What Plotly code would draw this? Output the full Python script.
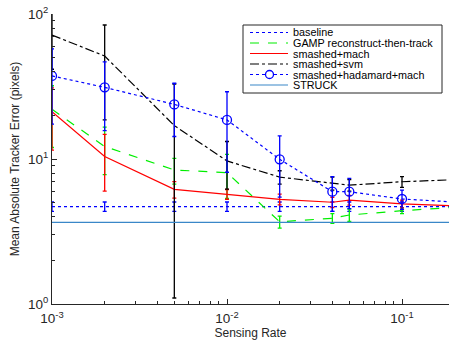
import plotly.graph_objects as go

# ---- data ----
sensing_rate = [0.001, 0.002, 0.005, 0.01, 0.02, 0.04, 0.05, 0.1, 0.2]

baseline = [4.7, 4.7, 4.7, 4.7, 4.7, 4.7, 4.7, 4.7, 4.7]
baseline_err = [0.35, 0.35, 0.35, 0.35, 0.35, 0.35, 0.35, 0.35, 0.35]

gamp = [22.0, 12.2, 8.4, 8.05, 3.69, 3.9, 4.11, 4.4, 4.64]
gamp_err = [10.0, 4.4, 1.7, 2.7, 0.35, 0.3, 0.4, 0.2, 0.2]

smashed_mach = [21.2, 10.4, 6.18, 5.71, 5.27, 5.03, 5.21, 4.9, 4.76]
smashed_mach_err = [9.7, 4.4, 0.8, 0.45, 0.45, 0.4, 0.4, 0.3, 0.3]

smashed_svm = [71.6, 51.3, 17.0, 9.7, 7.5, 6.8, 6.6, 6.97, 7.2]
smashed_svm_err = [30.0, 32.7, 15.9, 3.5, 0.8, 0.7, 0.6, 0.6, 0.6]

smashed_had = [37.4, 31.2, 23.8, 18.6, 9.95, 5.95, 5.95, 5.3, 5.05]
smashed_had_err = [20.0, 15.5, 9.5, 10.5, 4.5, 1.6, 1.4, 0.8, 0.6]

struck = [3.66, 3.66, 3.66, 3.66, 3.66, 3.66, 3.66, 3.66, 3.66]

names = ["baseline", "GAMP reconstruct-then-track", "smashed+mach",
         "smashed+svm", "smashed+hadamard+mach", "STRUCK"]

x_tickvals = [0.001, 0.01, 0.1]
x_ticktext = ["10<sup>-3</sup>", "10<sup>-2</sup>", "10<sup>-1</sup>"]
y_tickvals = [1, 10, 100]
y_ticktext = ["10<sup>0</sup>", "10<sup>1</sup>", "10<sup>2</sup>"]

FONT = "Liberation Sans, Arial, sans-serif"
TXT = "#262626"

W, H = 449, 343
ML, MR, MT, MB = 52, 0, 14, 39
PW, PH = W - ML - MR, H - MT - MB

def px(x):
    return (x - ML) / PW

def py(y):
    return (H - MB - y) / PH

styles = [
    ("#0000ff", "dot", False),
    ("#00ee00", "dash", False),
    ("#ff0000", "solid", False),
    ("#000000", "dashdot", False),
    ("#0000ff", "dot", True),
    ("#3a87c8", "solid", False),
]
series = [baseline, gamp, smashed_mach, smashed_svm, smashed_had, struck]
errors = [baseline_err, gamp_err, smashed_mach_err, smashed_svm_err, smashed_had_err, None]

fig = go.Figure()
for y, err, name, (color, dash, marker) in zip(series, errors, names, styles):
    fig.add_trace(go.Scatter(
        x=sensing_rate, y=y, name=name, showlegend=False,
        mode="lines+markers" if marker else "lines",
        line=dict(color=color, width=1.2, dash=dash),
        marker=dict(symbol="circle-open", size=9, color=color,
                    line=dict(width=1.3, color=color)) if marker else None,
        error_y=dict(type="data", array=err, visible=True, color=color,
                     thickness=1.3, width=2) if err is not None else None,
    ))

# ---- manual compact legend (MATLAB style) ----
shapes = [dict(type="rect", xref="paper", yref="paper",
               x0=px(243), x1=px(442), y0=py(93), y1=py(25),
               fillcolor="white", line=dict(color=TXT, width=1), layer="above")]
annotations = []
row_y = [32.5, 43, 53.5, 64, 74.5, 85]
for ry, name, (color, dash, marker) in zip(row_y, names, styles):
    shapes.append(dict(type="line", xref="paper", yref="paper",
                       x0=px(250), x1=px(288), y0=py(ry), y1=py(ry),
                       line=dict(color=color, width=1.2, dash=dash), layer="above"))
    if marker:
        shapes.append(dict(type="circle", xref="paper", yref="paper",
                           xsizemode="pixel", ysizemode="pixel",
                           xanchor=px(269.5), yanchor=py(ry),
                           x0=-4, x1=4, y0=-4, y1=4,
                           fillcolor="white", line=dict(color=color, width=1.3),
                           layer="above"))
    annotations.append(dict(xref="paper", yref="paper", x=px(291), y=py(ry),
                            xanchor="left", yanchor="middle", showarrow=False,
                            text=name, font=dict(family=FONT, size=10.8, color="#000000")))

fig.update_layout(
    width=W, height=H,
    margin=dict(l=ML, r=MR, t=MT, b=MB),
    paper_bgcolor="white", plot_bgcolor="white",
    font=dict(family=FONT, size=12, color=TXT),
    showlegend=False,
    shapes=shapes, annotations=annotations,
)

x_minor = [m * d for d in (0.001, 0.01, 0.1) for m in range(2, 10)]
y_minor = [m * d for d in (1, 10) for m in range(2, 10)]

fig.update_xaxes(
    type="log", range=[-3, -0.7314],
    tickmode="array", tickvals=x_tickvals, ticktext=x_ticktext,
    showgrid=False, zeroline=False, showline=True, linecolor=TXT, linewidth=1,
    ticks="inside", ticklen=5, tickcolor=TXT, ticklabelstandoff=2,
    minor=dict(ticks="inside", ticklen=3, tickcolor=TXT, tickmode="array",
               tickvals=x_minor, showgrid=False),
    tickfont=dict(size=13.5, color=TXT),
    title=dict(text="Sensing Rate", font=dict(size=12, color=TXT), standoff=0),
)
fig.update_yaxes(
    type="log", range=[0, 2],
    tickmode="array", tickvals=y_tickvals, ticktext=y_ticktext,
    showgrid=False, zeroline=False, showline=True, linecolor=TXT, linewidth=1,
    ticks="inside", ticklen=5, tickcolor=TXT,
    minor=dict(ticks="inside", ticklen=3, tickcolor=TXT, tickmode="array",
               tickvals=y_minor, showgrid=False),
    tickfont=dict(size=13.5, color=TXT),
    title=dict(text="Mean Absolute Tracker Error (pixels)", font=dict(size=12, color=TXT), standoff=5),
)

fig.write_html("out.html")
